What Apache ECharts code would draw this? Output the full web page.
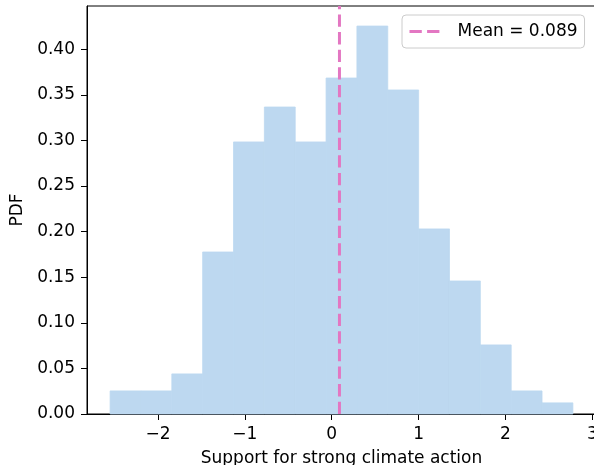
<!DOCTYPE html>
<html>
<head>
<meta charset="utf-8">
<script src="https://cdn.jsdelivr.net/npm/echarts@6/dist/echarts.min.js"></script>
<style>html,body{margin:0;padding:0;background:#fff;overflow:hidden;}#c{width:594px;height:465px;}</style>
</head>
<body>
<div id="c"></div>
<script>
// Histogram bin edges (left edges + last right edge)
const binEdges = [-2.55, -2.195, -1.84, -1.485, -1.13, -0.775, -0.42, -0.065, 0.29, 0.645, 1.0, 1.355, 1.71, 2.065, 2.42, 2.775];
// Density values per bin
const densities = [0.0253, 0.0253, 0.0440, 0.1777, 0.2984, 0.3367, 0.2984, 0.3685, 0.4255, 0.3554, 0.2030, 0.1459, 0.0758, 0.0253, 0.0122];
const meanValue = 0.089;
const meanLabel = 'Mean = 0.089';
const xTicks = [-2, -1, 0, 1, 2, 3];
const yTicks = [0, 0.05, 0.10, 0.15, 0.20, 0.25, 0.30, 0.35, 0.40];
const xName = 'Support for strong climate action';
const yName = 'PDF';

const xMin = -2.816, xMax = 3.041, yMin = 0, yMax = 0.4475;

const histData = densities.map((d, i) => [binEdges[i], binEdges[i + 1], d]);
const FS = 17;
const FONT = 'DejaVu Sans';
const barColor = '#bdd8f0';
const meanColor = '#e377c2';

const chart = echarts.init(document.getElementById('c'), null, {renderer: 'canvas'});
chart.setOption({
  animation: false,
  backgroundColor: '#fff',
  textStyle: {fontFamily: FONT},
  grid: {left: 87, top: 6, width: 509, height: 408, outerBoundsMode: 'none', containLabel: false,
    show: true, borderColor: '#000', borderWidth: 1, backgroundColor: 'transparent'},
  legend: {
    left: 402, top: 15,
    padding: [8, 7, 8, 6],
    itemWidth: 34, itemHeight: 14,
    backgroundColor: 'rgba(255,255,255,0.8)',
    borderColor: '#cccccc', borderWidth: 1, borderRadius: 4,
    textStyle: {fontFamily: FONT, fontSize: FS, color: '#000', padding: [0, 0, 0, 9]},
    lineStyle: {type: [12.3, 5.3], width: 3, color: meanColor},
    itemStyle: {color: 'rgba(0,0,0,0)', borderWidth: 0, opacity: 0},
    data: [meanLabel]
  },
  xAxis: {
    type: 'value', min: xMin, max: xMax,
    name: xName, nameLocation: 'middle', nameGap: 36,
    nameTextStyle: {fontFamily: FONT, fontSize: FS, color: '#000'},
    axisLine: {show: true, onZero: false, lineStyle: {color: '#000', width: 1}},
    axisTick: {show: true, length: 6, lineStyle: {color: '#000', width: 1}, customValues: xTicks},
    axisLabel: {customValues: xTicks, margin: 12, fontFamily: FONT, fontSize: FS, color: '#000',
      formatter: v => (v < 0 ? '\u2212' + Math.abs(v) : String(v))},
    splitLine: {show: false}
  },
  yAxis: {
    type: 'value', min: yMin, max: yMax,
    name: yName, nameLocation: 'middle', nameGap: 53,
    nameTextStyle: {fontFamily: FONT, fontSize: FS, color: '#000'},
    axisLine: {show: true, onZero: false, lineStyle: {color: '#000', width: 1}},
    axisTick: {show: true, length: 6, lineStyle: {color: '#000', width: 1}, customValues: yTicks},
    axisLabel: {customValues: yTicks, margin: 12, fontFamily: FONT, fontSize: FS, color: '#000',
      formatter: v => v.toFixed(2)},
    splitLine: {show: false}
  },
  series: [
    {
      type: 'custom',
      name: 'hist',
      data: histData,
      encode: {x: [0, 1], y: 2},
      renderItem: function (params, api) {
        const p0 = api.coord([api.value(0), api.value(2)]);
        const p1 = api.coord([api.value(1), 0]);
        return {
          type: 'rect',
          shape: {x: p0[0], y: p0[1], width: p1[0] - p0[0], height: p1[1] - p0[1]},
          style: {fill: barColor, stroke: barColor, lineWidth: 0.8}
        };
      },
      z: 1
    },
    {
      type: 'line',
      name: meanLabel,
      data: [[meanValue, yMin], [meanValue, yMax]],
      symbol: 'none',
      lineStyle: {type: [12.3, 5.3], width: 3, color: meanColor},
      itemStyle: {color: meanColor},
      z: 3
    }
  ]
});
</script>
</body>
</html>
